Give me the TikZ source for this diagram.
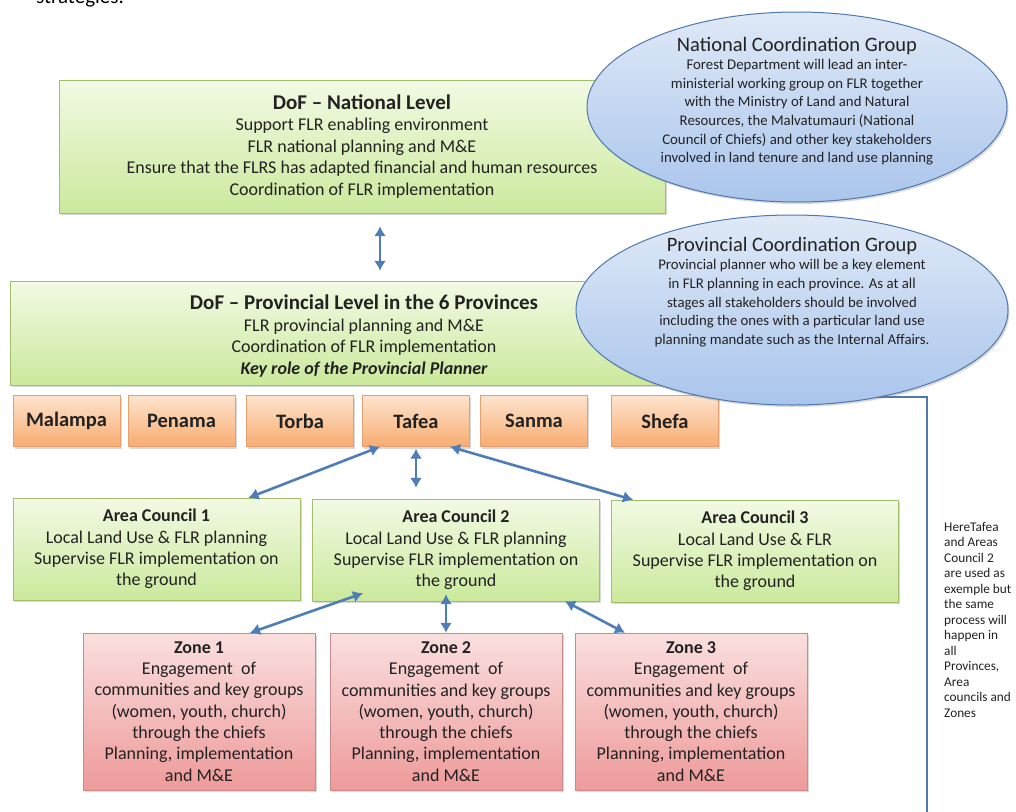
\documentclass[tikz,border=0pt]{standalone}
\usepackage{fontspec}
\setmainfont{Carlito}
\usetikzlibrary{arrows.meta,shapes.geometric,shadows}

\definecolor{grnTop}{HTML}{F2FAE4}
\definecolor{grnBot}{HTML}{CBE99C}
\definecolor{grnLine}{HTML}{A2C06C}
\definecolor{orgTop}{HTML}{FDE4CE}
\definecolor{orgBot}{HTML}{F8AC70}
\definecolor{orgLine}{HTML}{E6A070}
\definecolor{redTop}{HTML}{FADFDF}
\definecolor{redBot}{HTML}{EE9A9A}
\definecolor{redLine}{HTML}{C88A8A}
\definecolor{bluTop}{HTML}{DFE9F7}
\definecolor{bluBot}{HTML}{AAC5EC}
\definecolor{bluLine}{HTML}{4E78AE}
\definecolor{arrBlue}{HTML}{4F7DB8}
\definecolor{txt}{HTML}{222222}

\newcommand{\lvl}[1]{{\bfseries\fontsize{21}{21.5}\selectfont #1}}

\tikzset{
  shade box/.style={drop shadow={shadow xshift=1.5pt,shadow yshift=-2pt,opacity=.3}},
  greenbox/.style={draw=grnLine, top color=grnTop, bottom color=grnBot, shade box,
    align=center, text=txt, inner sep=0pt, font=\fontsize{18}{21.5}\selectfont},
  bodytext/.style={align=center, text=txt, inner sep=0pt, font=\fontsize{18}{21.5}\selectfont},
  provbox/.style={draw=orgLine, top color=orgTop, bottom color=orgBot, shade box,
    minimum width=107pt, minimum height=51pt, inner sep=0pt, text=txt,
    font=\fontsize{20.5}{22}\selectfont\bfseries},
  councilbox/.style={greenbox, minimum width=287pt, minimum height=102pt,
    font=\fontsize{18}{21.3}\selectfont},
  zonebox/.style={draw=redLine, top color=redTop, bottom color=redBot, shade box,
    minimum width=232pt, minimum height=157pt, inner sep=0pt, align=center, text=txt,
    font=\fontsize{18}{21.3}\selectfont},
  groupoval/.style={ellipse, draw=bluLine, line width=1pt, top color=bluTop, bottom color=bluBot,
    shade box, inner sep=0pt},
  grouptext/.style={align=center, text=txt, inner sep=0pt, font=\fontsize{14.8}{18.6}\selectfont},
  link/.style={{Latex[length=10pt,width=12pt]}-{Latex[length=10pt,width=12pt]}, line width=2.6pt, draw=arrBlue},
}

\begin{document}
\begin{tikzpicture}[x=1pt,y=-1pt]
\useasboundingbox (0,0) rectangle (1016,811);

% text of the page above
\node[anchor=base west, inner sep=0pt, font=\fontsize{21}{25}\selectfont] (prevtext) at (36,4) {strategies.};

% national and provincial level
\node[greenbox, minimum width=606pt, minimum height=133pt] (national) at (362,146.5)
  {\lvl{DoF – National Level}\\Support FLR enabling environment\\FLR national planning and M\&E\\
   Ensure that the FLRS has adapted financial and human resources\\Coordination of FLR implementation};
\node[greenbox, minimum width=658pt, minimum height=104pt] (provincial) at (339,333) {};
\node[bodytext] (provtext) at (364,336)
  {\lvl{DoF – Provincial Level in the 6 Provinces}\\FLR provincial planning and M\&E\\
   Coordination of FLR implementation\\{\bfseries\itshape Key role of the Provincial Planner}};

% the 6 provinces
\foreach \nm/\cx in {Malampa/66.5,Penama/181.5,Torba/300,Tafea/416,Sanma/534,Shefa/665}
  \node[provbox] (\nm) at (\cx,421) {\nm};

% area councils
\node[councilbox] (ac1) at (156.5,549) {\textbf{Area Council 1}\\Local Land Use \& FLR planning\\Supervise FLR implementation on\\the ground};
\node[councilbox] (ac2) at (456,550) {\textbf{Area Council 2}\\Local Land Use \& FLR planning\\Supervise FLR implementation on\\the ground};
\node[councilbox] (ac3) at (755,551) {\textbf{Area Council 3}\\Local Land Use \& FLR\\Supervise FLR implementation on\\the ground};

% zones
\foreach \i/\cx in {1/199,2/446,3/691}
  \node[zonebox] (zone\i) at (\cx,711.5) {\textbf{Zone \i}\\Engagement\ \ of\\communities and key groups\\(women, youth, church)\\through the chiefs\\Planning, implementation\\and M\&E};

% links
\draw[link, shorten <=13pt, shorten >=10pt] ([xshift=18pt]national.south) -- ([xshift=16pt]provtext.north |- provincial.north);
\draw[link] ([xshift=-36pt]Tafea.south) -- ([xshift=92pt]ac1.north);
\draw[link, shorten <=2pt, shorten >=11pt] (Tafea.south) -- ([xshift=-40pt]ac2.north);
\draw[link] ([xshift=34pt]Tafea.south) -- ([xshift=-122pt]ac3.north);
\draw[link] ([xshift=-93pt,yshift=8pt]ac2.south) -- ([xshift=51pt]zone1.north);
\draw[link] ([xshift=-10pt,yshift=7pt]ac2.south) -- ([xshift=0pt]zone2.north);
\draw[link] ([xshift=109pt]ac2.south) -- ([xshift=-66pt]zone3.north);

% bracket on the right
\coordinate (brkA) at (870,397);
\coordinate (brkB) at (927,397);
\coordinate (brkC) at (927,815);
\draw[bluLine, line width=1.5pt] (brkA) -- (brkB) -- (brkC);

% coordination groups
\node[groupoval, minimum width=420pt, minimum height=190pt] (ncg) at (797,107) {};
\node[grouptext] (ncgtext) at ([yshift=6pt]ncg.center)
  {{\fontsize{20.5}{21}\selectfont National Coordination Group}\\Forest Department will lead an inter-\\
   ministerial working group on FLR together\\with the Ministry of Land and Natural\\
   Resources, the Malvatumauri (National\\Council of Chiefs) and other key stakeholders\\
   involved in land tenure and land use planning};
\node[groupoval, minimum width=432pt, minimum height=190pt] (pcg) at (792,310) {};
\node[grouptext] (pcgtext) at ([yshift=18pt]pcg.center)
  {{\fontsize{20.5}{21}\selectfont Provincial Coordination Group}\\Provincial planner who will be a key element\\
   in FLR planning in each province. As at all\\stages all stakeholders should be involved\\
   including the ones with a particular land use\\planning mandate such as the Internal Affairs.};

% note
\node[anchor=north west, align=left, inner sep=0pt, text=txt, font=\fontsize{13.3}{15.5}\selectfont] (note) at (944,522)
  {HereTafea\\and Areas\\Council 2\\are used as\\exemple but\\the same\\process will\\happen in\\all\\Provinces,\\Area\\councils and\\Zones};
\end{tikzpicture}
\end{document}
